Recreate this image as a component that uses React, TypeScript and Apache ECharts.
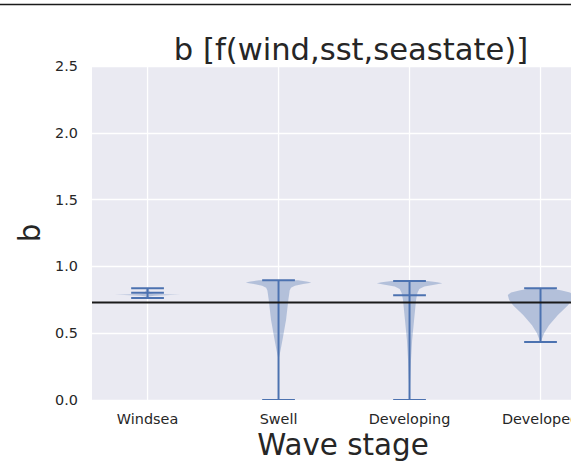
import React, { useEffect, useRef } from "react";
import * as echarts from "echarts";

// Wave-stage categories along the x axis
const categories = ["Windsea", "Swell", "Developing", "Developed"];

// Extremes and medians of b for each stage (null = no median marker drawn)
const minValues = [0.763, 0.0, 0.0, 0.434];
const maxValues = [0.836, 0.896, 0.891, 0.836];
const medianValues: (number | null)[] = [0.803, null, 0.784, null];

// Violin outlines: [b value, relative density (0..1)] from bottom to top
const windseaProfile = [
  [0.763, 0.02], [0.775, 0.05], [0.781, 0.2], [0.785, 0.7], [0.787, 1.0],
  [0.789, 0.7], [0.793, 0.2], [0.8, 0.09], [0.815, 0.06], [0.836, 0.02],
];
const swellProfile = [
  [0.0, 0.0], [0.25, 0.004], [0.32, 0.015], [0.37, 0.06], [0.45, 0.12],
  [0.49, 0.15], [0.6, 0.23], [0.75, 0.3], [0.82, 0.34], [0.84, 0.38],
  [0.855, 0.5], [0.868, 0.75], [0.877, 1.0], [0.885, 0.9], [0.896, 0.6],
];
const developingProfile = [
  [0.0, 0.0], [0.05, 0.005], [0.15, 0.02], [0.3, 0.045], [0.45, 0.08],
  [0.6, 0.14], [0.75, 0.2], [0.8, 0.24], [0.83, 0.3], [0.85, 0.45],
  [0.865, 0.8], [0.874, 1.0], [0.882, 0.85], [0.891, 0.55],
];
const developedProfile = [
  [0.434, 0.0], [0.45, 0.03], [0.5, 0.11], [0.56, 0.26], [0.636, 0.53],
  [0.71, 0.84], [0.75, 0.96], [0.786, 1.0], [0.805, 0.9], [0.82, 0.65],
  [0.836, 0.3],
];
const profiles = [windseaProfile, swellProfile, developingProfile, developedProfile];

// Horizontal reference level of b
const referenceB = 0.73;

// Y-axis ticks
const yTicks = [0, 0.5, 1.0, 1.5, 2.0, 2.5];

const X_MIN = -0.424;
const X_MAX = 3.538;
const HALF_WIDTH = 0.25; // max violin half-width in category units
const CAP_HALF = 0.125;

const BLUE = "#4c72b0";
const TEXT = "#262626";
const FONT = "DejaVu Sans";

export default function App() {
  const ref = useRef<HTMLDivElement>(null);

  useEffect(() => {
    if (!ref.current) return;
    const chart = echarts.init(ref.current, undefined, { renderer: "svg" });

    const itemData = categories.map((_, i) => [i]);

    const option: any = {
      animation: false,
      backgroundColor: "#ffffff",
      textStyle: { fontFamily: FONT },
      graphic: [
        {
          type: "line",
          shape: { x1: 0, y1: 4.5, x2: 571, y2: 4.5 },
          style: { stroke: "#1b1b1b", lineWidth: 1.5 },
          silent: true,
        },
        {
          type: "text",
          x: 351,
          y: 49,
          style: {
            text: "b [f(wind,sst,seastate)]",
            font: `30.6px "${FONT}"`,
            fill: TEXT,
            textAlign: "center",
            textVerticalAlign: "middle",
          },
        },
        {
          type: "text",
          x: 343,
          y: 445,
          style: {
            text: "Wave stage",
            font: `29.4px "${FONT}"`,
            fill: TEXT,
            textAlign: "center",
            textVerticalAlign: "middle",
          },
        },
      ],
      grid: {
        left: 92,
        right: -40,
        top: 66,
        bottom: 61,
        containLabel: false,
        outerBoundsMode: "none",
        show: true,
        backgroundColor: "#eaeaf2",
        borderWidth: 0,
      },
      xAxis: {
        type: "value",
        min: X_MIN,
        max: X_MAX,
        axisLine: { show: false },
        axisTick: { show: false },
        splitLine: { show: false },
        axisLabel: {
          customValues: categories.map((_, i) => i),
          formatter: (v: number) => categories[Math.round(v)] ?? "",
          fontSize: 14.4,
          color: TEXT,
          fontFamily: FONT,
          margin: 12,
        },
      },
      yAxis: {
        type: "value",
        min: yTicks[0],
        max: yTicks[yTicks.length - 1],
        interval: 0.5,
        name: "b",
        nameLocation: "middle",
        nameGap: 32,
        nameRotate: 90,
        nameTextStyle: { fontSize: 29.4, color: TEXT, fontFamily: FONT },
        axisLine: { show: false },
        axisTick: { show: false },
        splitLine: { show: true, lineStyle: { color: "#ffffff", width: 1.3 } },
        axisLabel: {
          formatter: (v: number) => v.toFixed(1),
          fontSize: 14.4,
          color: TEXT,
          fontFamily: FONT,
          margin: 14,
        },
      },
      series: [
        {
          // vertical grid lines at each category
          type: "custom",
          silent: true,
          z: 1,
          data: itemData,
          renderItem: (_params: any, api: any) => {
            const i = api.value(0);
            const p0 = api.coord([i, yTicks[0]]);
            const p1 = api.coord([i, yTicks[yTicks.length - 1]]);
            return {
              type: "line",
              shape: { x1: p0[0], y1: p0[1], x2: p1[0], y2: p1[1] },
              style: { stroke: "#ffffff", lineWidth: 1.3 },
            };
          },
        },
        {
          // violins with extrema bars and caps
          type: "custom",
          silent: true,
          z: 3,
          clip: true,
          data: itemData,
          renderItem: (_params: any, api: any) => {
            const i = api.value(0);
            const prof = profiles[i];
            const pts: number[][] = [];
            prof.forEach(([v, r]) => pts.push(api.coord([i + r * HALF_WIDTH, v])));
            for (let k = prof.length - 1; k >= 0; k--) {
              const [v, r] = prof[k];
              pts.push(api.coord([i - r * HALF_WIDTH, v]));
            }
            const capLine = (v: number) => {
              const a = api.coord([i - CAP_HALF, v]);
              const b = api.coord([i + CAP_HALF, v]);
              return {
                type: "line",
                shape: { x1: a[0], y1: a[1], x2: b[0], y2: b[1] },
                style: { stroke: BLUE, lineWidth: 2 },
              };
            };
            const lo = api.coord([i, minValues[i]]);
            const hi = api.coord([i, maxValues[i]]);
            const children: any[] = [
              {
                type: "polygon",
                shape: { points: pts },
                style: { fill: BLUE, opacity: 0.35 },
              },
              {
                type: "line",
                shape: { x1: lo[0], y1: lo[1], x2: hi[0], y2: hi[1] },
                style: { stroke: BLUE, lineWidth: 2 },
              },
              capLine(minValues[i]),
              capLine(maxValues[i]),
            ];
            const med = medianValues[i];
            if (med !== null) children.push(capLine(med));
            return { type: "group", children };
          },
        },
        {
          // reference level
          type: "line",
          silent: true,
          z: 5,
          symbol: "none",
          data: [
            [X_MIN, referenceB],
            [X_MAX, referenceB],
          ],
          lineStyle: { color: "#1a1a1a", width: 2 },
        },
      ],
    };

    chart.setOption(option);
    return () => chart.dispose();
  }, []);

  return (
    <div
      ref={ref}
      style={{ position: "fixed", left: 0, top: 0, width: 571, height: 461 }}
    />
  );
}
